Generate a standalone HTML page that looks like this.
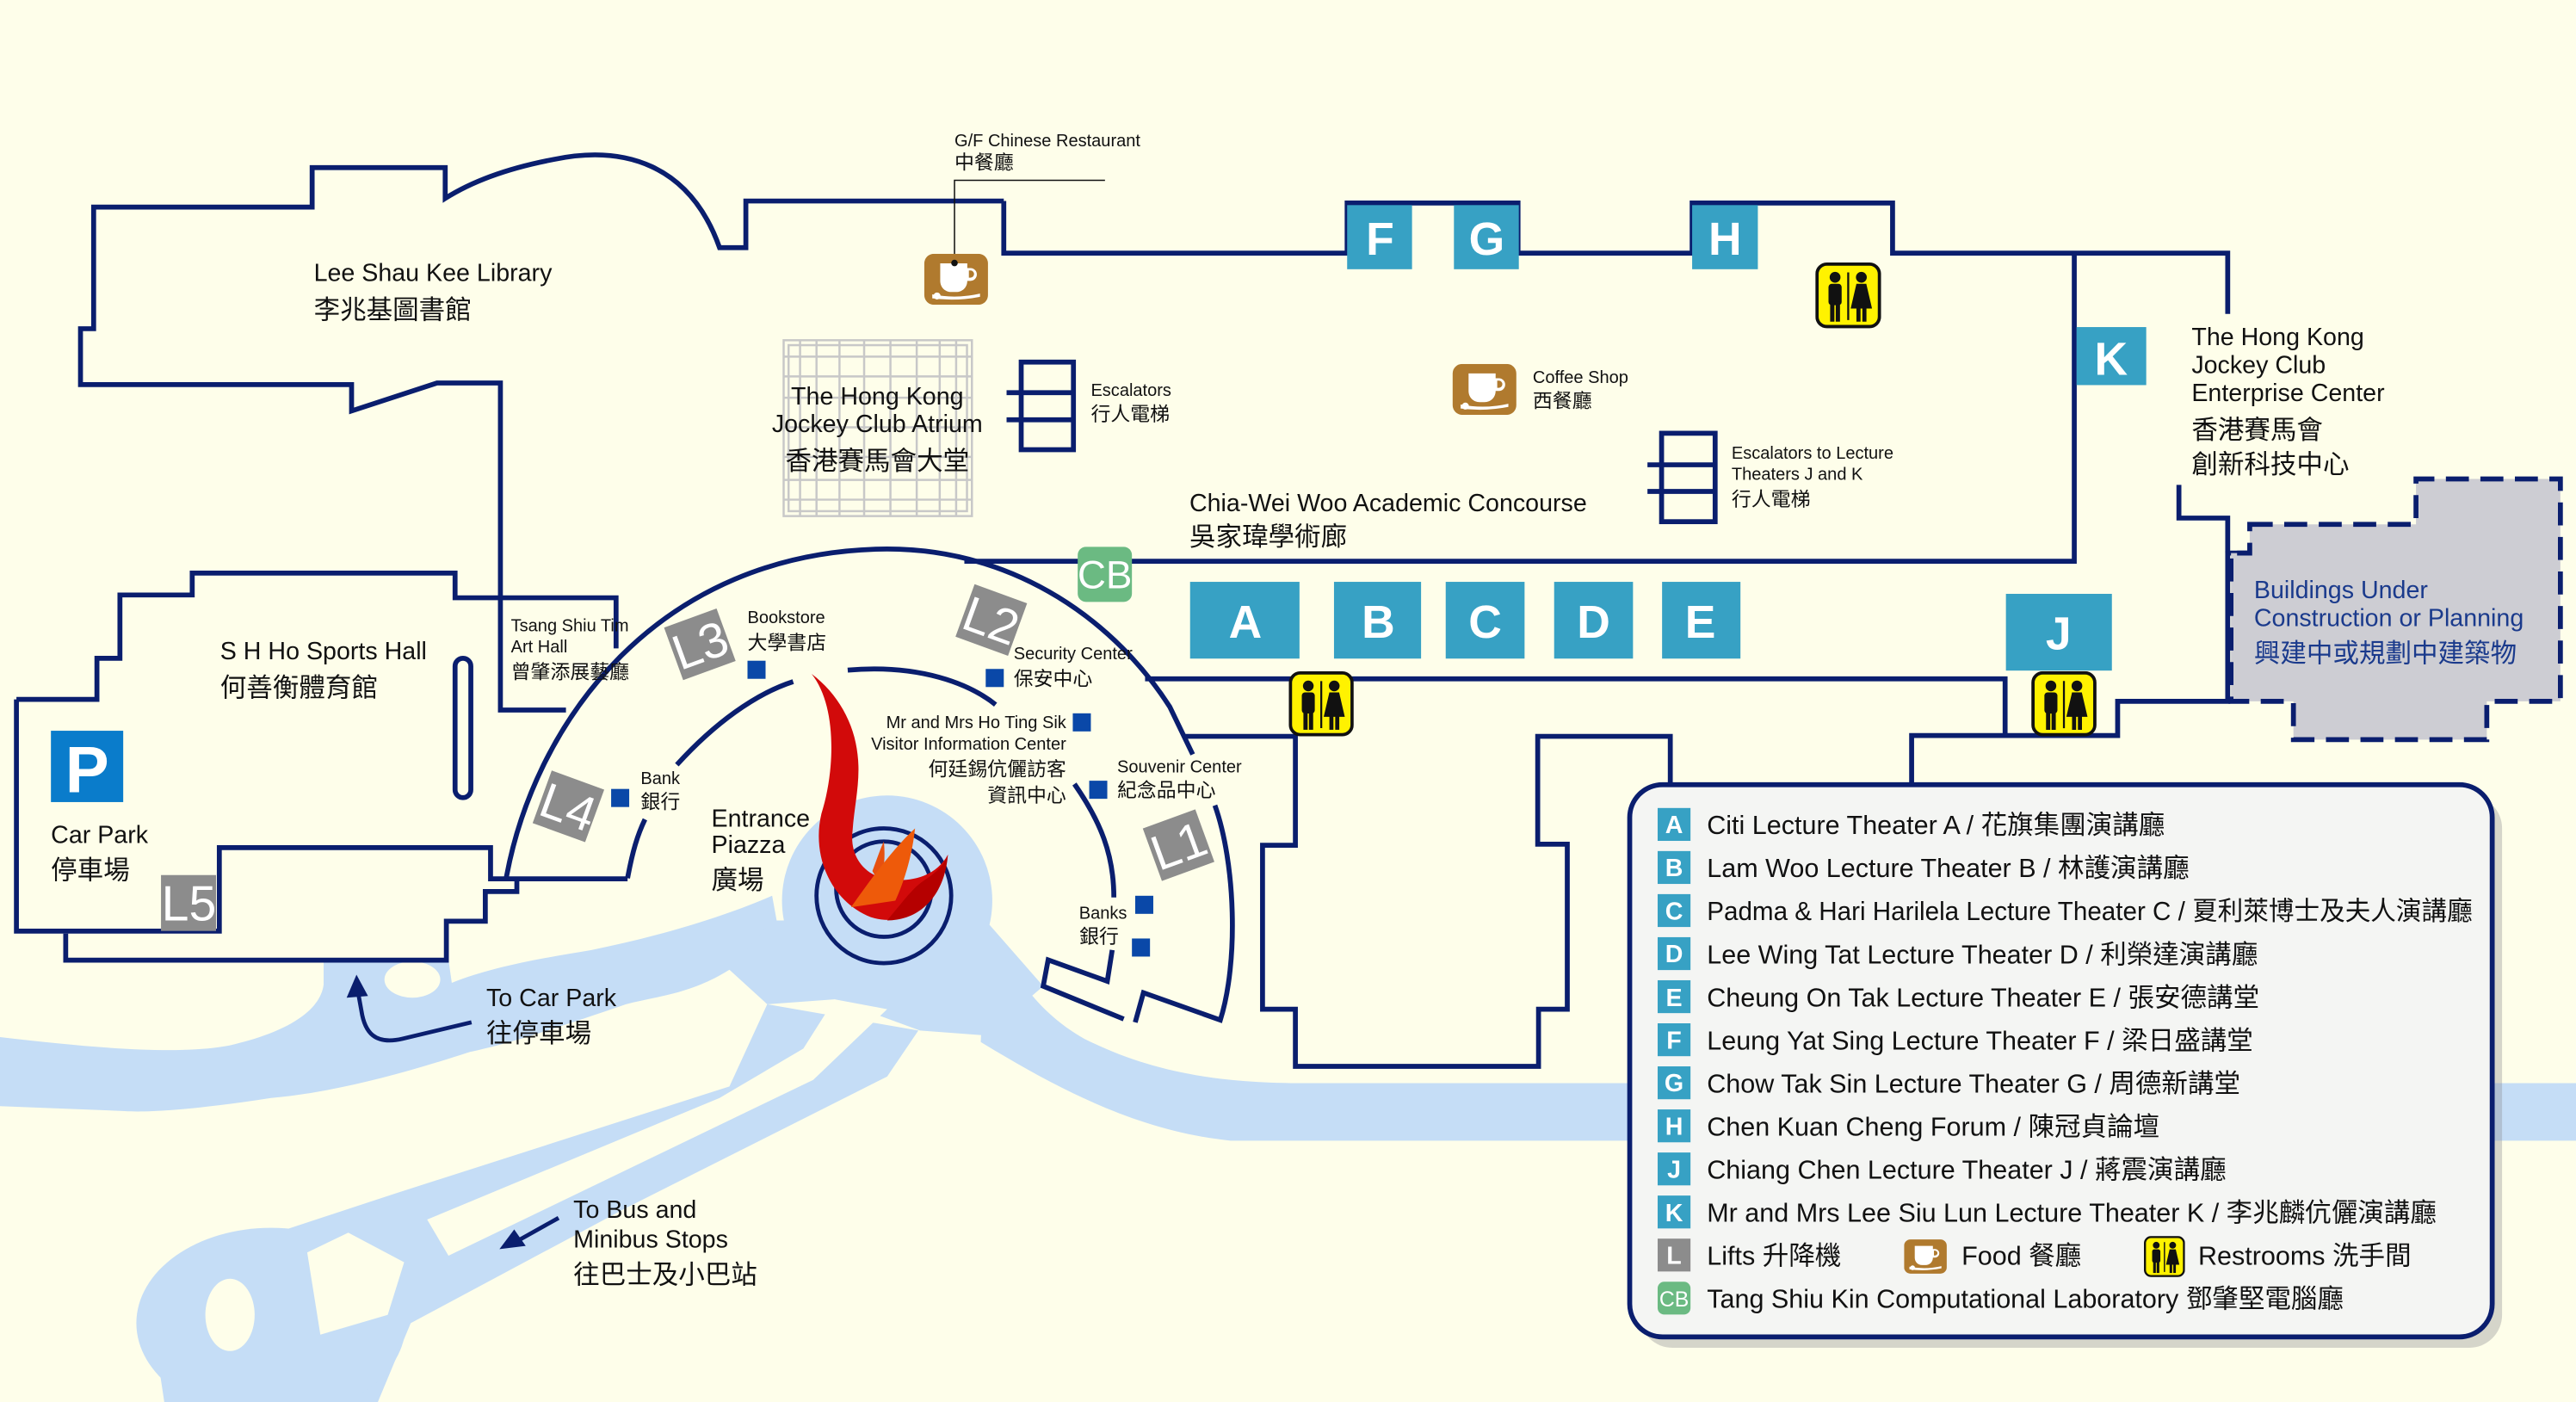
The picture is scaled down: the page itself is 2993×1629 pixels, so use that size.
<!DOCTYPE html>
<html><head><meta charset="utf-8">
<style>
html,body{margin:0;padding:0;background:#FEFEEA;}
svg{display:block;}
text{font-family:"Liberation Sans","Noto Sans CJK TC",sans-serif;fill:#111;}
.s{font-size:10.5px;}
.sc{font-size:12px;}
.m{font-size:15px;}
.mc{font-size:16px;}
.bx{fill:#37A1C4;}
.bl{font-weight:bold;fill:#fff;font-size:28px;text-anchor:middle;}
.ln{fill:none;stroke:#0A1E6E;stroke-width:3;}
.lg{font-size:16px;}
.li{font-weight:bold;fill:#fff;font-size:15px;text-anchor:middle;}
.lb{font-size:30px;fill:#fff;text-anchor:middle;}
</style></head><body>
<svg width="2993" height="1629" viewBox="0 0 1568 853" preserveAspectRatio="none" xmlns="http://www.w3.org/2000/svg">
<defs>
<symbol id="wc" viewBox="0 0 40 40">
<rect x="1" y="1" width="38" height="38" rx="6" fill="#FFF200" stroke="#111" stroke-width="2"/>
<circle cx="12" cy="9" r="3.3" fill="#111"/>
<rect x="8" y="13" width="8" height="13" rx="2" fill="#111"/>
<rect x="9" y="24" width="2.6" height="12" fill="#111"/><rect x="12.4" y="24" width="2.6" height="12" fill="#111"/>
<line x1="20" y1="6" x2="20" y2="35" stroke="#111" stroke-width="1.2"/>
<circle cx="28" cy="9" r="3.3" fill="#111"/>
<polygon points="25,13 31,13 34.5,28 21.5,28" fill="#111"/>
<rect x="25" y="27" width="2.5" height="9" fill="#111"/><rect x="28.6" y="27" width="2.5" height="9" fill="#111"/>
</symbol>
<symbol id="cf" viewBox="0 0 40 32">
<rect x="0" y="0" width="40" height="32" rx="6" fill="#B07A2E"/>
<path d="M10,6 H27 V9 H29 A3.5,3.5 0 0 1 29,17 H27 C27,21 24,24 20,24 H17 C13,24 10,21 10,17 Z" fill="#fff"/>
<path d="M28,10.5 H29 A2,2 0 0 1 29,15 H28 Z" fill="#B07A2E"/>
<path d="M5,25.5 Q20,28.5 35,25 L35,27 Q20,30 5,28 Z" fill="#fff"/>
<circle cx="8" cy="26.5" r="2.2" fill="#fff"/>
</symbol>
</defs>
<rect x="0" y="0" width="1568" height="853" fill="#FEFEEA"/>

<!-- roads -->
<g fill="#C5DDF6">
<path d="M0,631 C60,638 110,642 140,636 C175,628 195,615 197,599 L197,584 L273,584 L275,598 C300,588 330,583 360,578 C400,570 440,558 470,545 L480,600 L444,590 C420,605 400,606 381,611 C340,625 310,635 286,640 C240,655 200,665 165,668 C120,675 90,677 76,676 L0,673 Z"/>
<circle cx="540" cy="548" r="64"/>
<polygon points="470,560 600,560 635,600 600,630 560,627 508,608 467,611 444,590"/>
<path d="M600,560 C615,590 630,615 660,632 C700,652 740,659 794,659 L1568,659 L1568,694 L749,694 C690,688 640,660 597,634 Z"/>
<polygon points="467,611 559,627 540,655 381,735 250,805 230,853 100,853 92,800 120,760 165,751 241,726 444,661"/>
<ellipse cx="165" cy="805" rx="82" ry="58"/>
</g>
<g fill="#FEFEEA">
<ellipse cx="251" cy="596" rx="17" ry="11"/>
<polygon points="508,608 540,614 495,657 273,764 260,742 438,668 489,638"/>
<ellipse cx="140" cy="800" rx="15" ry="22"/>
<polygon points="187,762 212,750 246,768 236,800 195,812"/>
</g>

<!-- buildings outline -->
<g class="ln">
<path d="M611,122.3 H454 V150.7 H438 C420,100 380,88 337,97 C300,104 280,115 271,120.7 V102 H190 V126 H57 V200 H49 V234 H214 V250 L266,233 H304.6 V432 H344.5"/>
<path d="M611,122.3 V154 H820 V123.5 H924 V154 H1030 V123.5 H1152 V154 H1356 V191"/>
<path d="M1262.6,154 V341.5 H587"/>
<path d="M697,413 H1220.5 V446.8"/>
<path d="M721,448 H788.5 V514.3 H768.5 V614 H788.5 V648.8 H936.5 V614 H954 V513.6 H936 V448 H1016.7 V478"/>
<path d="M1163.6,478 V447.5 H1289 V426.7 H1356 V336.5 H1368"/>
<path d="M1326.3,295 V315.2 H1356 V336.5"/>
<path d="M10,425.5 H59 V400.5 H73 V362 H117 V348.7 H277 V363.7 H375 V394.5"/>
<path d="M10,425.5 V566.5 H133.5 V515.7 H298.6 V534.7 H382"/>
<path d="M314.6,534.7 V542.4 H295.4 V560.5 H271.7 V584.2 H40 V568"/>
<rect x="277" y="400.5" width="9.6" height="84.8" rx="4.8"/>
<path d="M308,535 C325,440 400,335 540,334 C620,334 680,380 712,430 L726,459"/>
<path d="M739.5,490 C752,525 754,585 742.8,620.6 L696,604 L691,622"/>
<path d="M382,534.3 C385,518 388,508 392.6,498.5"/>
<path d="M412,465.3 C435,440 460,422 482.8,414.7"/>
<path d="M516,407.7 C560,404 590,416 606,428.7"/>
<path d="M654,477 C670,500 678,520 678,546"/>
<path d="M677,578 L674,597 L638,584 L635,600 L684,620"/>
</g>
<!-- under construction -->
<polygon points="1369.4,319 1470.6,319 1470.6,291.4 1558.5,291.4 1558.5,426.7 1513.7,426.7 1513.7,450 1396,450 1396,426.7 1358,426.7 1358,336.5 1369.4,336.5" fill="#CDCDD3" stroke="#0A1E6E" stroke-width="3" stroke-dasharray="14,7"/>

<!-- fountain -->
<circle cx="538" cy="545" r="41" fill="none" stroke="#0A1E6E" stroke-width="2.5"/>
<circle cx="538" cy="541" r="29" fill="none" stroke="#0A1E6E" stroke-width="2.5"/>
<path d="M494,410 C510,430 508,470 500,495 C494,520 505,548 530,558 C552,565 572,550 577,520 C570,533 555,537 540,535 C525,532 517,520 519,505 C520,490 524,475 522,459 C520,440 510,422 494,410 Z" fill="#D20A0A"/>
<path d="M531,530 C534,522 536,516 538,512 C539,522 538,530 536,538 Z" fill="#E65010"/>
<path d="M518,552 C532,532 545,515 557,504 C555,522 550,537 545,548 Z" fill="#EE5A0A"/>
<path d="M540,560 C550,548 556,540 562,536 C568,532 574,528 577,520 C575,545 560,560 540,560 Z" fill="#B50000"/>

<!-- atrium grid -->
<g stroke="#C8C8C8" fill="none" stroke-width="1.3">
<rect x="477" y="207" width="114.6" height="107"/>
<rect x="480" y="210" width="108.6" height="101"/>
<path d="M477,217 H591.6 M477,229 H591.6 M477,242 H591.6 M477,260 H591.6 M477,278 H591.6 M477,292 H591.6 M477,304 H591.6 M487,207 V314 M497,207 V314 M511,207 V314 M526,207 V314 M542,207 V314 M558,207 V314 M572,207 V314 M582,207 V314"/>
</g>
<!-- escalators -->
<g fill="none" stroke="#0A1E6E" stroke-width="3">
<rect x="621.6" y="220.3" width="31.8" height="53.3"/>
<path d="M612.7,238.9 H653.4 M612.7,255.4 H653.4"/>
<rect x="1011.4" y="263.6" width="32.6" height="53.8"/>
<path d="M1002.8,282.8 H1044 M1002.8,299 H1044"/>
</g>
<!-- pointer -->
<path d="M672.6,109.7 H581 V159" fill="none" stroke="#111" stroke-width="0.8"/>
<use href="#cf" x="562" y="154.4" width="40" height="31"/>
<circle cx="581" cy="160" r="2" fill="#111"/>
<use href="#cf" x="883.6" y="221.4" width="40" height="31"/>

<!-- letter boxes -->
<rect class="bx" x="820" y="124.8" width="39.5" height="39"/><text class="bl" x="840" y="155">F</text>
<rect class="bx" x="885" y="124.8" width="39.5" height="39"/><text class="bl" x="905" y="155">G</text>
<rect class="bx" x="1030" y="124.8" width="40" height="39"/><text class="bl" x="1050" y="155">H</text>
<rect class="bx" x="1264" y="199" width="42.4" height="35.3"/><text class="bl" x="1285" y="228">K</text>
<rect class="bx" x="1221" y="361.3" width="64.5" height="46.7"/><text class="bl" x="1253" y="395">J</text>
<rect class="bx" x="724.4" y="354" width="66.6" height="46.7"/><text class="bl" x="758" y="388">A</text>
<rect class="bx" x="812" y="354" width="53" height="46.7"/><text class="bl" x="839" y="388">B</text>
<rect class="bx" x="880" y="354" width="48" height="46.7"/><text class="bl" x="904" y="388">C</text>
<rect class="bx" x="946" y="354" width="48" height="46.7"/><text class="bl" x="970" y="388">D</text>
<rect class="bx" x="1011.7" y="354" width="47.7" height="46.7"/><text class="bl" x="1035" y="388">E</text>
<rect x="656" y="332.7" width="33" height="33.5" rx="5" fill="#6BBA82"/><text x="672.5" y="358" class="lb" style="font-size:24px">CB</text>

<!-- restrooms -->
<use href="#wc" x="1105" y="159.4" width="40" height="40.6"/>
<use href="#wc" x="784.5" y="408.4" width="39.5" height="39.6"/>
<use href="#wc" x="1236" y="408.4" width="40.6" height="39.6"/>

<!-- P box -->
<rect x="31" y="444.6" width="44" height="43.4" fill="#0A7CCB"/>
<text x="53" y="482" style="font-size:40px;font-weight:bold;fill:#fff;text-anchor:middle">P</text>

<!-- lift boxes -->
<g fill="#8C8C8C">
<rect x="409" y="375" width="34" height="34" transform="rotate(-20 426 392)"/>
<rect x="586.4" y="360.2" width="34" height="34" transform="rotate(20 603.4 377.2)"/>
<rect x="329" y="473.6" width="34" height="34" transform="rotate(20 346 490.6)"/>
<rect x="700.4" y="497.2" width="34" height="34" transform="rotate(-20 717.4 514.2)"/>
<rect x="98" y="532.4" width="33.5" height="34"/>
</g>
<text class="lb" x="426" y="403" transform="rotate(-20 426 392)">L3</text>
<text class="lb" x="603.4" y="388" transform="rotate(20 603.4 377.2)">L2</text>
<text class="lb" x="346" y="501.5" transform="rotate(20 346 490.6)">L4</text>
<text class="lb" x="717.4" y="525" transform="rotate(-20 717.4 514.2)">L1</text>
<text class="lb" x="115" y="560">L5</text>

<!-- small blue squares -->
<g fill="#0A48A8">
<rect x="455" y="402" width="11" height="11"/><rect x="600" y="407" width="11" height="11"/>
<rect x="653" y="434" width="11" height="11"/><rect x="372" y="480" width="11" height="11"/>
<rect x="663" y="475" width="11" height="11"/><rect x="691" y="545" width="11" height="11"/>
<rect x="689" y="571" width="11" height="11"/>
</g>

<!-- arrows -->
<path d="M287,622 L245,632 C228,636 222,628 220,615 L218,604" fill="none" stroke="#0A1E6E" stroke-width="2.5"/>
<polygon points="217,593 211,607 224,606" fill="#0A1E6E"/>
<path d="M340,741 L315,755" stroke="#0A1E6E" stroke-width="2.5"/>
<polygon points="304,760 313,748 320,758" fill="#0A1E6E"/>

<!-- labels -->
<text class="m" x="191" y="171">Lee Shau Kee Library</text>
<text class="mc" x="191" y="194">李兆基圖書館</text>
<text class="s" x="581" y="89">G/F Chinese Restaurant</text>
<text class="sc" x="581" y="103">中餐廳</text>
<g style="text-anchor:middle">
<text class="m" x="534" y="246">The Hong Kong</text>
<text class="m" x="534" y="263">Jockey Club Atrium</text>
<text class="mc" x="534" y="286">香港賽馬會大堂</text>
</g>
<text class="s" x="664" y="241">Escalators</text>
<text class="sc" x="664" y="256">行人電梯</text>
<text class="s" x="933" y="233">Coffee Shop</text>
<text class="sc" x="933" y="248">西餐廳</text>
<text class="s" x="1054" y="279">Escalators to Lecture</text>
<text class="s" x="1054" y="292">Theaters J and K</text>
<text class="sc" x="1054" y="308">行人電梯</text>
<text class="m" x="724" y="311">Chia-Wei Woo Academic Concourse</text>
<text class="mc" x="724" y="332">吳家瑋學術廊</text>
<text class="m" x="1334" y="210">The Hong Kong</text>
<text class="m" x="1334" y="227">Jockey Club</text>
<text class="m" x="1334" y="244">Enterprise Center</text>
<text class="mc" x="1334" y="267">香港賽馬會</text>
<text class="mc" x="1334" y="288">創新科技中心</text>
<text class="m" x="1372" y="364" style="fill:#1A3A8C">Buildings Under</text>
<text class="m" x="1372" y="381" style="fill:#1A3A8C">Construction or Planning</text>
<text class="mc" x="1372" y="403" style="fill:#1A3A8C">興建中或規劃中建築物</text>
<text class="m" x="134" y="401">S H Ho Sports Hall</text>
<text class="mc" x="134" y="424">何善衡體育館</text>
<text class="m" x="31" y="513">Car Park</text>
<text class="mc" x="31" y="535">停車場</text>
<text class="s" x="311" y="384">Tsang Shiu Tim</text>
<text class="s" x="311" y="397">Art Hall</text>
<text class="sc" x="311" y="413">曾肇添展藝廳</text>
<text class="s" x="455" y="379">Bookstore</text>
<text class="sc" x="455" y="395">大學書店</text>
<text class="s" x="617" y="401">Security Center</text>
<text class="sc" x="617" y="417">保安中心</text>
<g style="text-anchor:end">
<text class="s" x="649" y="443">Mr and Mrs Ho Ting Sik</text>
<text class="s" x="649" y="456">Visitor Information Center</text>
<text class="sc" x="649" y="472">何廷錫伉儷訪客</text>
<text class="sc" x="649" y="488">資訊中心</text>
<text class="s" x="686" y="559">Banks</text>
<text class="sc" x="681" y="574">銀行</text>
</g>
<text class="s" x="390" y="477">Bank</text>
<text class="sc" x="390" y="492">銀行</text>
<text class="s" x="680" y="470">Souvenir Center</text>
<text class="sc" x="680" y="485">紀念品中心</text>
<text class="m" x="433" y="503">Entrance</text>
<text class="m" x="433" y="519">Piazza</text>
<text class="mc" x="433" y="541">廣場</text>
<text class="m" x="296" y="612">To Car Park</text>
<text class="mc" x="296" y="634">往停車場</text>
<text class="m" x="349" y="741">To Bus and</text>
<text class="m" x="349" y="759">Minibus Stops</text>
<text class="mc" x="349" y="781">往巴士及小巴站</text>

<!-- legend -->
<rect x="998" y="484" width="525" height="336" rx="20" fill="#8A8A90" opacity="0.35"/>
<rect x="992" y="477.4" width="525" height="336" rx="20" fill="#F4F5F3" stroke="#0A1E6E" stroke-width="3"/>
<g>
<rect class="bx" x="1009" y="491.6" width="20" height="20"/><text class="li" x="1019" y="507">A</text><text class="lg" x="1039" y="507.5">Citi Lecture Theater A / 花旗集團演講廳</text>
<rect class="bx" x="1009" y="517.8" width="20" height="20"/><text class="li" x="1019" y="533">B</text><text class="lg" x="1039" y="533.7">Lam Woo Lecture Theater B / 林護演講廳</text>
<rect class="bx" x="1009" y="544" width="20" height="20"/><text class="li" x="1019" y="559.5">C</text><text class="lg" x="1039" y="559.9" textLength="466" lengthAdjust="spacingAndGlyphs">Padma &amp; Hari Harilela Lecture Theater C / 夏利萊博士及夫人演講廳</text>
<rect class="bx" x="1009" y="570.2" width="20" height="20"/><text class="li" x="1019" y="585.5">D</text><text class="lg" x="1039" y="586.1">Lee Wing Tat Lecture Theater D / 利榮達演講廳</text>
<rect class="bx" x="1009" y="596.4" width="20" height="20"/><text class="li" x="1019" y="612">E</text><text class="lg" x="1039" y="612.3">Cheung On Tak Lecture Theater E / 張安德講堂</text>
<rect class="bx" x="1009" y="622.6" width="20" height="20"/><text class="li" x="1019" y="638">F</text><text class="lg" x="1039" y="638.5">Leung Yat Sing Lecture Theater F / 梁日盛講堂</text>
<rect class="bx" x="1009" y="648.8" width="20" height="20"/><text class="li" x="1019" y="664">G</text><text class="lg" x="1039" y="664.7">Chow Tak Sin Lecture Theater G / 周德新講堂</text>
<rect class="bx" x="1009" y="675" width="20" height="20"/><text class="li" x="1019" y="690.5">H</text><text class="lg" x="1039" y="690.9">Chen Kuan Cheng Forum / 陳冠貞論壇</text>
<rect class="bx" x="1009" y="701.2" width="20" height="20"/><text class="li" x="1019" y="716.5">J</text><text class="lg" x="1039" y="717.1">Chiang Chen Lecture Theater J / 蔣震演講廳</text>
<rect class="bx" x="1009" y="727.4" width="20" height="20"/><text class="li" x="1019" y="743">K</text><text class="lg" x="1039" y="743.3">Mr and Mrs Lee Siu Lun Lecture Theater K / 李兆麟伉儷演講廳</text>
<rect x="1009" y="753.6" width="20" height="20" fill="#8C8C8C"/><text class="li" x="1019" y="769">L</text><text class="lg" x="1039" y="769.5">Lifts 升降機</text>
<use href="#cf" x="1159" y="754" width="26" height="21"/><text class="lg" x="1194" y="769.5">Food 餐廳</text>
<use href="#wc" x="1305" y="752" width="25" height="25"/><text class="lg" x="1338" y="769.5">Restrooms 洗手間</text>
<rect x="1009" y="779.8" width="20" height="20" rx="4" fill="#6BBA82"/><text x="1019" y="795" style="font-size:13px;fill:#fff;text-anchor:middle">CB</text><text class="lg" x="1039" y="795.7">Tang Shiu Kin Computational Laboratory 鄧肇堅電腦廳</text>
</g>
</svg>
</body></html>
